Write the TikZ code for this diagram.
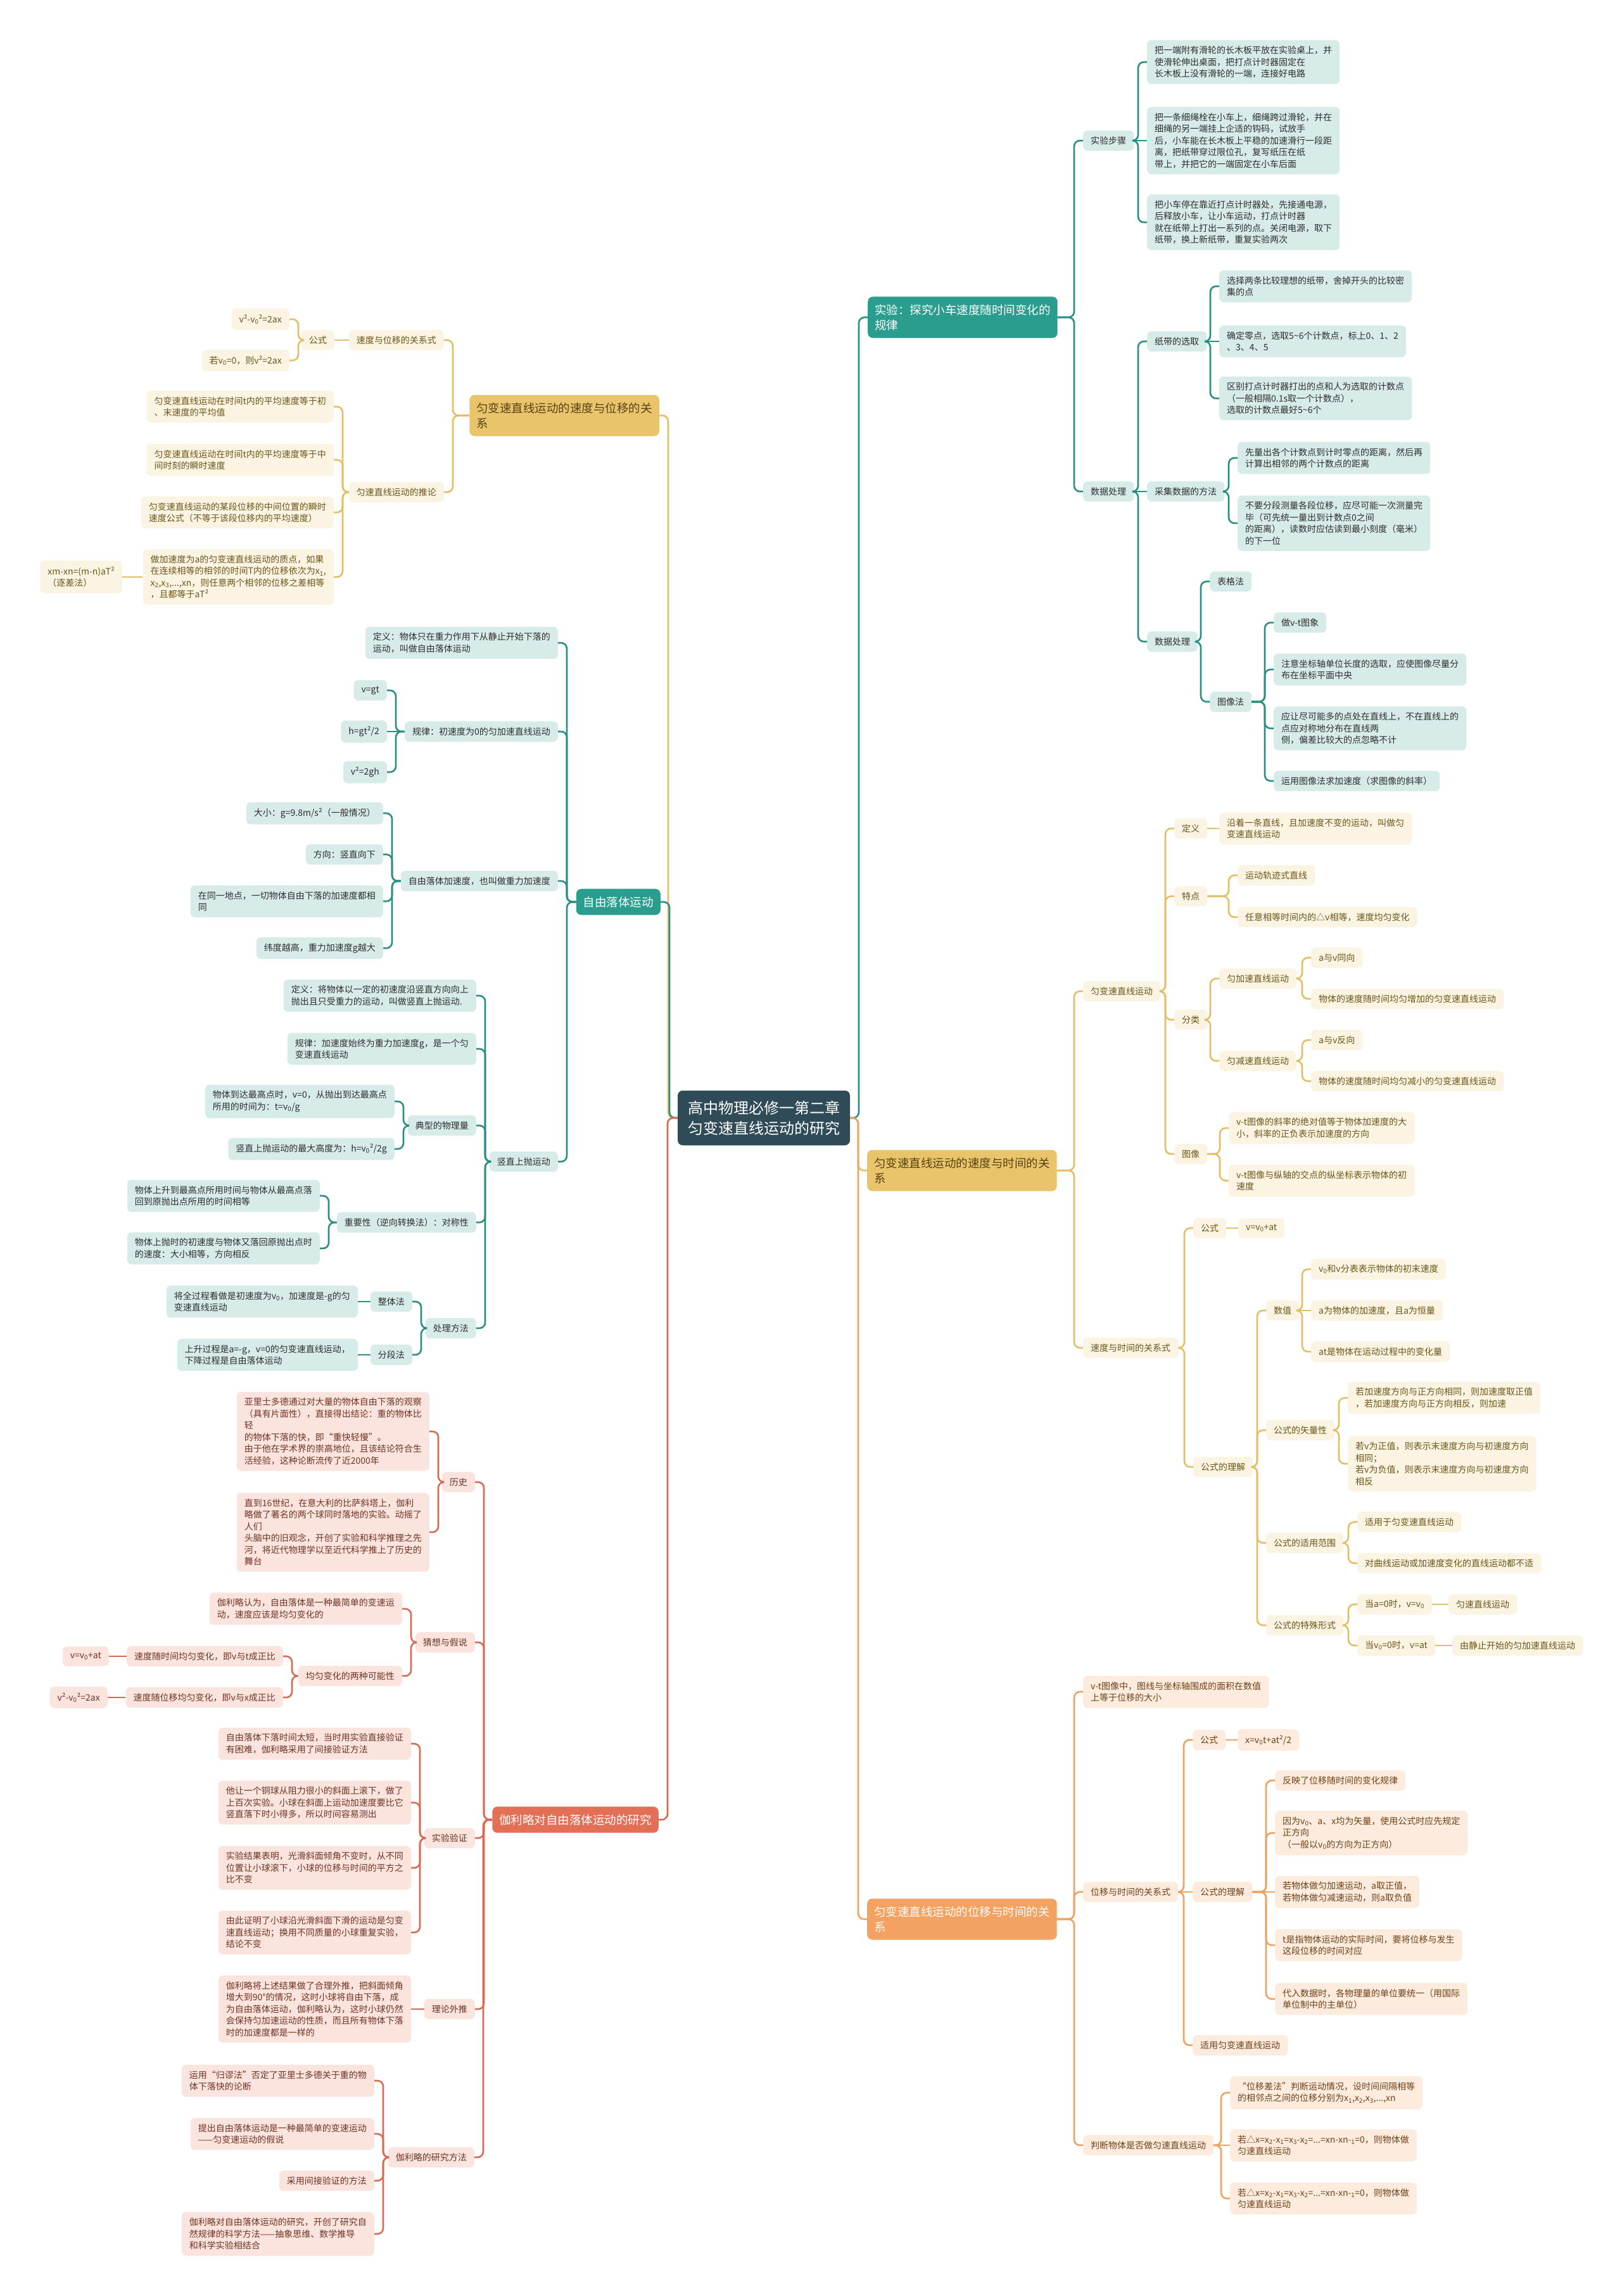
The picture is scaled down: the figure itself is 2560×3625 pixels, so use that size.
\documentclass[tikz,border=0pt]{standalone}
\usepackage{fontspec}
\setmainfont{Noto Sans CJK SC}
\newcommand{\vsub}[1]{\textsubscript{#1}}
\definecolor{rootC}{HTML}{2F4B58}
\definecolor{tealM}{HTML}{2A9D8F}
\definecolor{tealL}{HTML}{D7EBE8}
\definecolor{tealC}{HTML}{2A8E80}
\definecolor{tealT}{HTML}{2E2E2E}
\definecolor{yelM}{HTML}{E9C46A}
\definecolor{yelL}{HTML}{FCF4E2}
\definecolor{yelC}{HTML}{E3BE64}
\definecolor{yelT}{HTML}{6A5519}
\definecolor{redM}{HTML}{E46F57}
\definecolor{redL}{HTML}{FBE4DD}
\definecolor{redC}{HTML}{D66B52}
\definecolor{redT}{HTML}{6E3324}
\definecolor{orgM}{HTML}{F4A261}
\definecolor{orgL}{HTML}{FDECDD}
\definecolor{orgC}{HTML}{EFA15F}
\definecolor{orgT}{HTML}{6E4019}
\tikzset{
  base/.style={rounded corners=7pt, inner xsep=12pt, inner ysep=9.5pt, align=left, font=\fontsize{14}{18.5}\selectfont},
  tl/.style={base, fill=tealL, text=tealT},
  yl/.style={base, fill=yelL, text=yelT},
  rl/.style={base, fill=redL, text=redT},
  ol/.style={base, fill=orgL, text=orgT},
  mainbase/.style={rounded corners=8pt, inner xsep=11pt, inner ysep=12pt, align=left, font=\fontsize{18.5}{24}\selectfont},
  tmain/.style={mainbase, fill=tealM, text=white},
  ymain/.style={mainbase, fill=yelM, text=yelT!80!black},
  rmain/.style={mainbase, fill=redM, text=white},
  omain/.style={mainbase, fill=orgM, text=white},
  rootnode/.style={rounded corners=8pt, fill=rootC, text=white, inner xsep=16pt, inner ysep=16pt, align=left, font=\fontsize{24}{32}\selectfont},
  L/.style={anchor=east}, R/.style={anchor=west},
  tc/.style={draw=tealC, line width=2.6pt, rounded corners=9pt},
  yc/.style={draw=yelC, line width=2.6pt, rounded corners=9pt},
  rc/.style={draw=redC, line width=2.6pt, rounded corners=9pt},
  oc/.style={draw=orgC, line width=2.6pt, rounded corners=9pt},
}
\newcommand{\cR}[3]{\draw[#1] (#2.east) -| ([xshift=-14pt]#3.west) -- (#3.west);}
\newcommand{\cL}[3]{\draw[#1] (#2.west) -| ([xshift=14pt]#3.east) -- (#3.east);}
\newcommand{\sR}[3]{\draw[#1] (#2.east) -- (#3.west);}
\newcommand{\sL}[3]{\draw[#1] (#2.west) -- (#3.east);}
\begin{document}
\begin{tikzpicture}[x=1pt,y=-1pt]
\fill[white] (0,0) rectangle (2560,3625);
\useasboundingbox (0,0) rectangle (2560,3625);

% root
\node[rootnode] (root) at (1206,1765) {高中物理必修一第二章\\匀变速直线运动的研究};

% ================= LEFT: L1 yellow =================
\node[ymain,L] (L1) at (1041,656) {匀变速直线运动的速度与位移的关\\系};
\node[yl,L] (L1a) at (701,537) {速度与位移的关系式};
\node[yl,L] (L1a1) at (528,537) {公式};
\node[yl,L] (L1a1a) at (457,504) {v²-v\vsub{0}²=2ax};
\node[yl,L] (L1a1b) at (457,569) {若v\vsub{0}=0，则v²=2ax};
\node[yl,L] (L1b) at (701,777) {匀速直线运动的推论};
\node[yl,L] (L1b1) at (527,642) {匀变速直线运动在时间t内的平均速度等于初\\、末速度的平均值};
\node[yl,L] (L1b2) at (527,726) {匀变速直线运动在时间t内的平均速度等于中\\间时刻的瞬时速度};
\node[yl,L] (L1b3) at (527,809) {匀变速直线运动的某段位移的中间位置的瞬时\\速度公式（不等于该段位移内的平均速度）};
\node[yl,L] (L1b4) at (527,911) {做加速度为a的匀变速直线运动的质点，如果\\在连续相等的相邻的时间T内的位移依次为x\vsub{1},\\x\vsub{2},x\vsub{3},...,xn，则任意两个相邻的位移之差相等\\，且都等于aT²};
\node[yl,L] (L1b4a) at (193,911) {xm-xn=(m-n)aT²\\（逐差法）};

\cL{yc}{root}{L1}
\cL{yc}{L1}{L1a}
\cL{yc}{L1}{L1b}
\sL{yc}{L1a}{L1a1}
\cL{yc}{L1a1}{L1a1a}
\cL{yc}{L1a1}{L1a1b}
\cL{yc}{L1b}{L1b1}
\cL{yc}{L1b}{L1b2}
\cL{yc}{L1b}{L1b3}
\cL{yc}{L1b}{L1b4}
\sL{yc}{L1b4}{L1b4a}

% ================= LEFT: L2 teal =================
\node[tmain,L] (L2) at (1043,1424) {自由落体运动};
\node[tl,L] (L2a) at (881,1015) {定义：物体只在重力作用下从静止开始下落的\\运动，叫做自由落体运动};
\node[tl,L] (L2b) at (881,1155) {规律：初速度为0的匀加速直线运动};
\node[tl,L] (L2b1) at (611,1090) {v=gt};
\node[tl,L] (L2b2) at (611,1155) {h=gt²/2};
\node[tl,L] (L2b3) at (611,1219) {v²=2gh};
\node[tl,L] (L2c) at (881,1391) {自由落体加速度，也叫做重力加速度};
\node[tl,L] (L2c1) at (605,1284) {大小：g=9.8m/s²（一般情况）};
\node[tl,L] (L2c2) at (605,1349) {方向：竖直向下};
\node[tl,L] (L2c3) at (605,1423) {在同一地点，一切物体自由下落的加速度都相\\同};
\node[tl,L] (L2c4) at (605,1497) {纬度越高，重力加速度g越大};
\node[tl,L] (L2d) at (881,1834) {竖直上抛运动};
\node[tl,L] (L2d1) at (752,1572) {定义：将物体以一定的初速度沿竖直方向向上\\抛出且只受重力的运动，叫做竖直上抛运动.};
\node[tl,L] (L2d2) at (752,1656) {规律：加速度始终为重力加速度g，是一个匀\\变速直线运动};
\node[tl,L] (L2d3) at (752,1777) {典型的物理量};
\node[tl,L] (L2d3a) at (623,1739) {物体到达最高点时，v=0，从抛出到达最高点\\所用的时间为：t=v\vsub{0}/g};
\node[tl,L] (L2d3b) at (623,1814) {竖直上抛运动的最大高度为：h=v\vsub{0}²/2g};
\node[tl,L] (L2d4) at (752,1930) {重要性（逆向转换法）：对称性};
\node[tl,L] (L2d4a) at (505,1888) {物体上升到最高点所用时间与物体从最高点落\\回到原抛出点所用的时间相等};
\node[tl,L] (L2d4b) at (505,1971) {物体上抛时的初速度与物体又落回原抛出点时\\的速度：大小相等，方向相反};
\node[tl,L] (L2d5) at (752,2097) {处理方法};
\node[tl,L] (L2d5a) at (651,2055) {整体法};
\node[tl,L] (L2d5a1) at (565,2055) {将全过程看做是初速度为v\vsub{0}，加速度是-g的匀\\变速直线运动};
\node[tl,L] (L2d5b) at (651,2139) {分段法};
\node[tl,L] (L2d5b1) at (565,2139) {上升过程是a=-g，v=0的匀变速直线运动，\\下降过程是自由落体运动};

\cL{tc}{root}{L2}
\cL{tc}{L2}{L2a}
\cL{tc}{L2}{L2b}
\cL{tc}{L2}{L2c}
\cL{tc}{L2}{L2d}
\cL{tc}{L2b}{L2b1}
\sL{tc}{L2b}{L2b2}
\cL{tc}{L2b}{L2b3}
\cL{tc}{L2c}{L2c1}
\cL{tc}{L2c}{L2c2}
\cL{tc}{L2c}{L2c3}
\cL{tc}{L2c}{L2c4}
\cL{tc}{L2d}{L2d1}
\cL{tc}{L2d}{L2d2}
\cL{tc}{L2d}{L2d3}
\cL{tc}{L2d}{L2d4}
\cL{tc}{L2d}{L2d5}
\cL{tc}{L2d3}{L2d3a}
\cL{tc}{L2d3}{L2d3b}
\cL{tc}{L2d4}{L2d4a}
\cL{tc}{L2d4}{L2d4b}
\cL{tc}{L2d5}{L2d5a}
\cL{tc}{L2d5}{L2d5b}
\sL{tc}{L2d5a}{L2d5a1}
\sL{tc}{L2d5b}{L2d5b1}

% ================= LEFT: L3 red =================
\node[rmain,L] (L3) at (1040,2873) {伽利略对自由落体运动的研究};
\node[rl,L] (L3a) at (750,2340) {历史};
\node[rl,L] (L3a1) at (678,2260) {亚里士多德通过对大量的物体自由下落的观察\\（具有片面性），直接得出结论：重的物体比\\轻\\的物体下落的快，即“重快轻慢”。\\由于他在学术界的崇高地位，且该结论符合生\\活经验，这种论断流传了近2000年};
\node[rl,L] (L3a2) at (678,2419) {直到16世纪，在意大利的比萨斜塔上，伽利\\略做了著名的两个球同时落地的实验。动摇了\\人们\\头脑中的旧观念，开创了实验和科学推理之先\\河，将近代物理学以至近代科学推上了历史的\\舞台};
\node[rl,L] (L3b) at (750,2593) {猜想与假说};
\node[rl,L] (L3b1) at (635,2540) {伽利略认为，自由落体是一种最简单的变速运\\动，速度应该是均匀变化的};
\node[rl,L] (L3b2) at (635,2646) {均匀变化的两种可能性};
\node[rl,L] (L3b2a) at (447,2615) {速度随时间均匀变化，即v与t成正比};
\node[rl,L] (L3b2a1) at (172,2615) {v=v\vsub{0}+at};
\node[rl,L] (L3b2b) at (447,2680) {速度随位移均匀变化，即v与x成正比};
\node[rl,L] (L3b2b1) at (170,2680) {v²-v\vsub{0}²=2ax};
\node[rl,L] (L3c) at (750,2902) {实验验证};
\node[rl,L] (L3c1) at (649,2753) {自由落体下落时间太短，当时用实验直接验证\\有困难，伽利略采用了间接验证方法};
\node[rl,L] (L3c2) at (649,2846) {他让一个铜球从阻力很小的斜面上滚下，做了\\上百次实验。小球在斜面上运动加速度要比它\\竖直落下时小得多，所以时间容易测出};
\node[rl,L] (L3c3) at (649,2949) {实验结果表明，光滑斜面倾角不变时，从不同\\位置让小球滚下，小球的位移与时间的平方之\\比不变};
\node[rl,L] (L3c4) at (649,3051) {由此证明了小球沿光滑斜面下滑的运动是匀变\\速直线运动；换用不同质量的小球重复实验，\\结论不变};
\node[rl,L] (L3d) at (750,3172) {理论外推};
\node[rl,L] (L3d1) at (649,3172) {伽利略将上述结果做了合理外推，把斜面倾角\\增大到90°的情况，这时小球将自由下落，成\\为自由落体运动，伽利略认为，这时小球仍然\\会保持匀加速运动的性质，而且所有物体下落\\时的加速度都是一样的};
\node[rl,L] (L3e) at (749,3406) {伽利略的研究方法};
\node[rl,L] (L3e1) at (591,3285) {运用“归谬法”否定了亚里士多德关于重的物\\体下落快的论断};
\node[rl,L] (L3e2) at (591,3369) {提出自由落体运动是一种最简单的变速运动\\——匀变速运动的假说};
\node[rl,L] (L3e3) at (591,3443) {采用间接验证的方法};
\node[rl,L] (L3e4) at (591,3527) {伽利略对自由落体运动的研究，开创了研究自\\然规律的科学方法——抽象思维、数学推导\\和科学实验相结合};

\cL{rc}{root}{L3}
\cL{rc}{L3}{L3a}
\cL{rc}{L3}{L3b}
\cL{rc}{L3}{L3c}
\cL{rc}{L3}{L3d}
\cL{rc}{L3}{L3e}
\cL{rc}{L3a}{L3a1}
\cL{rc}{L3a}{L3a2}
\cL{rc}{L3b}{L3b1}
\cL{rc}{L3b}{L3b2}
\cL{rc}{L3b2}{L3b2a}
\cL{rc}{L3b2}{L3b2b}
\sL{rc}{L3b2a}{L3b2a1}
\sL{rc}{L3b2b}{L3b2b1}
\cL{rc}{L3c}{L3c1}
\cL{rc}{L3c}{L3c2}
\cL{rc}{L3c}{L3c3}
\cL{rc}{L3c}{L3c4}
\sL{rc}{L3d}{L3d1}
\cL{rc}{L3e}{L3e1}
\cL{rc}{L3e}{L3e2}
\cL{rc}{L3e}{L3e3}
\cL{rc}{L3e}{L3e4}

% ================= RIGHT: R1 teal =================
\node[tmain,R] (R1) at (1370,501) {实验：探究小车速度随时间变化的\\规律};
\node[tl,R] (R1a) at (1710,222) {实验步骤};
\node[tl,R] (R1a1) at (1811,98) {把一端附有滑轮的长木板平放在实验桌上，并\\使滑轮伸出桌面，把打点计时器固定在\\长木板上没有滑轮的一端，连接好电路};
\node[tl,R] (R1a2) at (1811,222) {把一条细绳栓在小车上，细绳跨过滑轮，并在\\细绳的另一端挂上企适的钩码，试放手\\后，小车能在长木板上平稳的加速滑行一段距\\离，把纸带穿过限位孔，复写纸压在纸\\带上，并把它的一端固定在小车后面};
\node[tl,R] (R1a3) at (1811,351) {把小车停在靠近打点计时器处，先接通电源，\\后释放小车，让小车运动，打点计时器\\就在纸带上打出一系列的点。关闭电源，取下\\纸带，换上新纸带，重复实验两次};
\node[tl,R] (R1b) at (1710,776) {数据处理};
\node[tl,R] (R1b1) at (1811,539) {纸带的选取};
\node[tl,R] (R1b1a) at (1925,452) {选择两条比较理想的纸带，舍掉开头的比较密\\集的点};
\node[tl,R] (R1b1b) at (1925,539) {确定零点，选取5\textasciitilde 6个计数点，标上0、1、2\\、3、4、5};
\node[tl,R] (R1b1c) at (1925,629) {区别打点计时器打出的点和人为选取的计数点\\（一般相隔0.1s取一个计数点），\\选取的计数点最好5\textasciitilde 6个};
\node[tl,R] (R1b2) at (1811,776) {采集数据的方法};
\node[tl,R] (R1b2a) at (1954,723) {先量出各个计数点到计时零点的距离，然后再\\计算出相邻的两个计数点的距离};
\node[tl,R] (R1b2b) at (1954,826) {不要分段测量各段位移，应尽可能一次测量完\\毕（可先统一量出到计数点0之间\\的距离），读数时应估读到最小刻度（毫米）\\的下一位};
\node[tl,R] (R1b3) at (1811,1013) {数据处理};
\node[tl,R] (R1b3a) at (1910,918) {表格法};
\node[tl,R] (R1b3b) at (1910,1108) {图像法};
\node[tl,R] (R1b3b1) at (2011,983) {做v-t图象};
\node[tl,R] (R1b3b2) at (2011,1057) {注意坐标轴单位长度的选取，应使图像尽量分\\布在坐标平面中央};
\node[tl,R] (R1b3b3) at (2011,1150) {应让尽可能多的点处在直线上，不在直线上的\\点应对称地分布在直线两\\侧，偏差比较大的点忽略不计};
\node[tl,R] (R1b3b4) at (2011,1233) {运用图像法求加速度（求图像的斜率）};

\cR{tc}{root}{R1}
\cR{tc}{R1}{R1a}
\cR{tc}{R1}{R1b}
\cR{tc}{R1a}{R1a1}
\sR{tc}{R1a}{R1a2}
\cR{tc}{R1a}{R1a3}
\cR{tc}{R1b}{R1b1}
\sR{tc}{R1b}{R1b2}
\cR{tc}{R1b}{R1b3}
\cR{tc}{R1b1}{R1b1a}
\sR{tc}{R1b1}{R1b1b}
\cR{tc}{R1b1}{R1b1c}
\cR{tc}{R1b2}{R1b2a}
\cR{tc}{R1b2}{R1b2b}
\cR{tc}{R1b3}{R1b3a}
\cR{tc}{R1b3}{R1b3b}
\cR{tc}{R1b3b}{R1b3b1}
\cR{tc}{R1b3b}{R1b3b2}
\cR{tc}{R1b3b}{R1b3b3}
\cR{tc}{R1b3b}{R1b3b4}

% ================= RIGHT: R2 yellow =================
\node[ymain,R] (R2) at (1369,1848) {匀变速直线运动的速度与时间的关\\系};
\node[yl,R] (R2a) at (1710,1565) {匀变速直线运动};
\node[yl,R] (R2a1) at (1854,1308) {定义};
\node[yl,R] (R2a1a) at (1925,1308) {沿着一条直线，且加速度不变的运动，叫做匀\\变速直线运动};
\node[yl,R] (R2a2) at (1854,1415) {特点};
\node[yl,R] (R2a2a) at (1954,1382) {运动轨迹式直线};
\node[yl,R] (R2a2b) at (1954,1448) {任意相等时间内的△v相等，速度均匀变化};
\node[yl,R] (R2a3) at (1854,1610) {分类};
\node[yl,R] (R2a3a) at (1925,1545) {匀加速直线运动};
\node[yl,R] (R2a3a1) at (2070,1512) {a与v同向};
\node[yl,R] (R2a3a2) at (2070,1577) {物体的速度随时间均匀增加的匀变速直线运动};
\node[yl,R] (R2a3b) at (1925,1675) {匀减速直线运动};
\node[yl,R] (R2a3b1) at (2070,1642) {a与v反向};
\node[yl,R] (R2a3b2) at (2070,1707) {物体的速度随时间均匀减小的匀变速直线运动};
\node[yl,R] (R2a4) at (1854,1822) {图像};
\node[yl,R] (R2a4a) at (1940,1781) {v-t图像的斜率的绝对值等于物体加速度的大\\小，斜率的正负表示加速度的方向};
\node[yl,R] (R2a4b) at (1940,1864) {v-t图像与纵轴的交点的纵坐标表示物体的初\\速度};
\node[yl,R] (R2b) at (1710,2128) {速度与时间的关系式};
\node[yl,R] (R2b1) at (1884,1939) {公式};
\node[yl,R] (R2b1a) at (1955,1939) {v=v\vsub{0}+at};
\node[yl,R] (R2b2) at (1884,2316) {公式的理解};
\node[yl,R] (R2b2a) at (1999,2069) {数值};
\node[yl,R] (R2b2a1) at (2070,2004) {v\vsub{0}和v分表表示物体的初末速度};
\node[yl,R] (R2b2a2) at (2070,2069) {a为物体的加速度，且a为恒量};
\node[yl,R] (R2b2a3) at (2070,2134) {at是物体在运动过程中的变化量};
\node[yl,R] (R2b2b) at (1999,2258) {公式的矢量性};
\node[yl,R] (R2b2b1) at (2128,2207) {若加速度方向与正方向相同，则加速度取正值\\，若加速度方向与正方向相反，则加速};
\node[yl,R] (R2b2b2) at (2128,2311) {若v为正值，则表示末速度方向与初速度方向\\相同；\\若v为负值，则表示末速度方向与初速度方向\\相反};
\node[yl,R] (R2b2c) at (1999,2436) {公式的适用范围};
\node[yl,R] (R2b2c1) at (2143,2403) {适用于匀变速直线运动};
\node[yl,R] (R2b2c2) at (2143,2468) {对曲线运动或加速度变化的直线运动都不适};
\node[yl,R] (R2b2d) at (1999,2566) {公式的特殊形式};
\node[yl,R] (R2b2d1) at (2143,2533) {当a=0时，v=v\vsub{0}};
\node[yl,R] (R2b2d1a) at (2287,2533) {匀速直线运动};
\node[yl,R] (R2b2d2) at (2143,2598) {当v\vsub{0}=0时，v=at};
\node[yl,R] (R2b2d2a) at (2293,2598) {由静止开始的匀加速直线运动};

\cR{yc}{root}{R2}
\cR{yc}{R2}{R2a}
\cR{yc}{R2}{R2b}
\cR{yc}{R2a}{R2a1}
\cR{yc}{R2a}{R2a2}
\cR{yc}{R2a}{R2a3}
\cR{yc}{R2a}{R2a4}
\sR{yc}{R2a1}{R2a1a}
\cR{yc}{R2a2}{R2a2a}
\cR{yc}{R2a2}{R2a2b}
\cR{yc}{R2a3}{R2a3a}
\cR{yc}{R2a3}{R2a3b}
\cR{yc}{R2a3a}{R2a3a1}
\cR{yc}{R2a3a}{R2a3a2}
\cR{yc}{R2a3b}{R2a3b1}
\cR{yc}{R2a3b}{R2a3b2}
\cR{yc}{R2a4}{R2a4a}
\cR{yc}{R2a4}{R2a4b}
\cR{yc}{R2b}{R2b1}
\cR{yc}{R2b}{R2b2}
\sR{yc}{R2b1}{R2b1a}
\cR{yc}{R2b2}{R2b2a}
\cR{yc}{R2b2}{R2b2b}
\cR{yc}{R2b2}{R2b2c}
\cR{yc}{R2b2}{R2b2d}
\cR{yc}{R2b2a}{R2b2a1}
\sR{yc}{R2b2a}{R2b2a2}
\cR{yc}{R2b2a}{R2b2a3}
\cR{yc}{R2b2b}{R2b2b1}
\cR{yc}{R2b2b}{R2b2b2}
\cR{yc}{R2b2c}{R2b2c1}
\cR{yc}{R2b2c}{R2b2c2}
\cR{yc}{R2b2d}{R2b2d1}
\cR{yc}{R2b2d}{R2b2d2}
\sR{yc}{R2b2d1}{R2b2d1a}
\sR{yc}{R2b2d2}{R2b2d2a}

% ================= RIGHT: R3 orange =================
\node[omain,R] (R3) at (1369,3030) {匀变速直线运动的位移与时间的关\\系};
\node[ol,R] (R3a) at (1710,2671) {v-t图像中，图线与坐标轴围成的面积在数值\\上等于位移的大小};
\node[ol,R] (R3b) at (1710,2987) {位移与时间的关系式};
\node[ol,R] (R3b1) at (1883,2747) {公式};
\node[ol,R] (R3b1a) at (1954,2747) {x=v\vsub{0}t+at²/2};
\node[ol,R] (R3b2) at (1883,2987) {公式的理解};
\node[ol,R] (R3b2a) at (2013,2811) {反映了位移随时间的变化规律};
\node[ol,R] (R3b2b) at (2013,2894) {因为v\vsub{0}、a、x均为矢量，使用公式时应先规定\\正方向\\（一般以v\vsub{0}的方向为正方向）};
\node[ol,R] (R3b2c) at (2013,2987) {若物体做匀加速运动，a取正值，\\若物体做匀减速运动，则a取负值};
\node[ol,R] (R3b2d) at (2013,3071) {t是指物体运动的实际时间，要将位移与发生\\这段位移的时间对应};
\node[ol,R] (R3b2e) at (2013,3156) {代入数据时，各物理量的单位要统一（用国际\\单位制中的主单位）};
\node[ol,R] (R3b3) at (1883,3229) {适用匀变速直线运动};
\node[ol,R] (R3c) at (1710,3387) {判断物体是否做匀速直线运动};
\node[ol,R] (R3c1) at (1942,3304) {“位移差法”判断运动情况，设时间间隔相等\\的相邻点之间的位移分别为x\vsub{1},x\vsub{2},x\vsub{3},...,xn};
\node[ol,R] (R3c2) at (1942,3387) {若△x=x\vsub{2}-x\vsub{1}=x\vsub{3}-x\vsub{2}=...=xn-xn-\vsub{1}=0，则物体做\\匀速直线运动};
\node[ol,R] (R3c3) at (1942,3471) {若△x=x\vsub{2}-x\vsub{1}=x\vsub{3}-x\vsub{2}=...=xn-xn-\vsub{1}=0，则物体做\\匀速直线运动};

\cR{oc}{root}{R3}
\cR{oc}{R3}{R3a}
\cR{oc}{R3}{R3b}
\cR{oc}{R3}{R3c}
\cR{oc}{R3b}{R3b1}
\sR{oc}{R3b}{R3b2}
\cR{oc}{R3b}{R3b3}
\sR{oc}{R3b1}{R3b1a}
\cR{oc}{R3b2}{R3b2a}
\cR{oc}{R3b2}{R3b2b}
\sR{oc}{R3b2}{R3b2c}
\cR{oc}{R3b2}{R3b2d}
\cR{oc}{R3b2}{R3b2e}
\cR{oc}{R3c}{R3c1}
\sR{oc}{R3c}{R3c2}
\cR{oc}{R3c}{R3c3}
\end{tikzpicture}
\end{document}
